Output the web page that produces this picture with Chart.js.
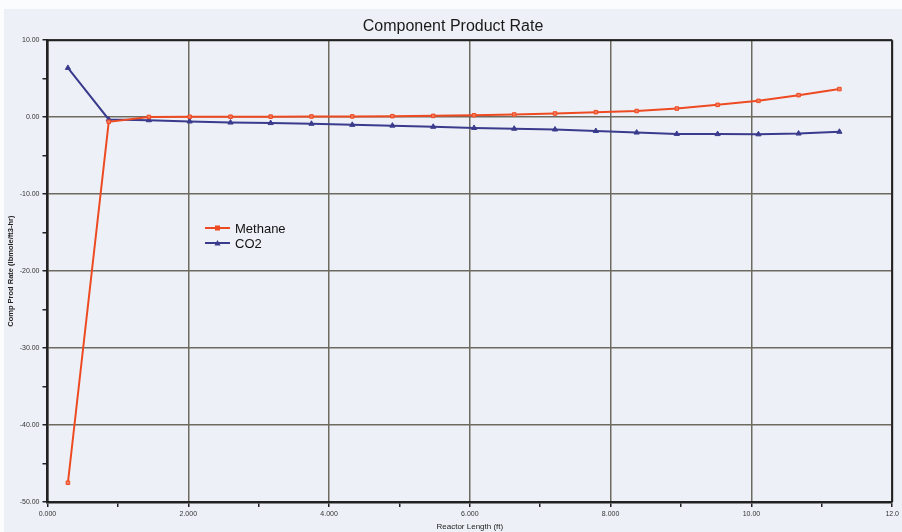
<!DOCTYPE html>
<html>
<head>
<meta charset="utf-8">
<script src="https://cdn.jsdelivr.net/npm/chart.js@4/dist/chart.umd.min.js"></script>
<style>
html,body{margin:0;padding:0;background:#edf1f7;}
canvas{display:block;}
</style>
</head>
<body>
<canvas id="c" width="902" height="532"></canvas>
<script>
// ---- data ----
const reactorLength = [0.29,0.87,1.44,2.02,2.60,3.17,3.75,4.33,4.90,5.48,6.06,6.63,7.21,7.79,8.37,8.94,9.52,10.10,10.67,11.25];
const methane = [-47.5,-0.6,0.03,0.05,0.06,0.07,0.09,0.10,0.13,0.17,0.25,0.35,0.48,0.65,0.80,1.12,1.60,2.12,2.86,3.65];
const co2 = [6.4,-0.3,-0.4,-0.56,-0.7,-0.77,-0.86,-1.0,-1.1,-1.25,-1.4,-1.5,-1.6,-1.8,-2.0,-2.18,-2.2,-2.23,-2.13,-1.9];
const seriesNames = ['Methane','CO2'];
const xTickValues = [0,2,4,6,8,10,12];
const xTickText = ['0.000','2.000','4.000','6.000','8.000','10.00','12.0'];
const yTickValues = [10,0,-10,-20,-30,-40,-50];
const yTickText = ['10.00','0.00','-10.00','-20.00','-30.00','-40.00','-50.00'];
const titleText = 'Component Product Rate';
const xTitle = 'Reactor Length (ft)';
const yTitle = 'Comp Prod Rate (lbmole/ft3-hr)';

const RED = '#ee4a22', BLUE = '#3a3b8c', GRID = '#6f6a60', AXIS = '#222';
const NARROW = "'Liberation Sans Narrow', 'Arial Narrow', sans-serif";

const bgPlugin = {
  id: 'bg',
  beforeDraw(chart) {
    const c = chart.ctx;
    c.save();
    c.fillStyle = '#edf1f7';
    c.fillRect(0, 0, chart.width, chart.height);
    c.fillStyle = '#fbfcfd';
    c.fillRect(0, 0, chart.width, 9);
    c.fillRect(0, 0, 4, chart.height);
    c.restore();
  },
  afterDatasetsDraw(chart) {
    const c = chart.ctx, a = chart.chartArea;
    c.save();
    c.strokeStyle = AXIS;
    c.lineWidth = 2;
    c.beginPath();
    c.moveTo(a.left, a.top); c.lineTo(a.right, a.top);
    c.moveTo(a.right, a.top); c.lineTo(a.right, a.bottom);
    c.stroke();
    c.restore();
  }
};

const legendPlugin = {
  id: 'inlegend',
  afterDraw(chart) {
    const c = chart.ctx;
    const x0 = 205, y0 = 228, gap = 15;
    chart.data.datasets.forEach((ds, i) => {
      const y = y0 + i * gap;
      c.save();
      c.strokeStyle = ds.borderColor;
      c.lineWidth = 2;
      c.beginPath(); c.moveTo(x0, y); c.lineTo(x0 + 25, y); c.stroke();
      c.fillStyle = ds.borderColor;
      const mx = x0 + 12.5;
      if (ds.pointStyle === 'rect') {
        c.fillRect(mx - 2.5, y - 2.5, 5, 5);
      } else {
        c.beginPath();
        c.moveTo(mx, y - 3); c.lineTo(mx + 3, y + 2.5); c.lineTo(mx - 3, y + 2.5); c.closePath(); c.fill();
      }
      c.fillStyle = '#111';
      c.font = '13px Arial, "Liberation Sans", sans-serif';
      c.textBaseline = 'middle';
      c.textAlign = 'left';
      c.fillText(ds.label, x0 + 30, y + 1);
      c.restore();
    });
  }
};

function gridColor(ctx, step) {
  const v = ctx.tick ? ctx.tick.value : 0;
  return (Math.round(v) % step === 0) ? GRID : 'rgba(0,0,0,0)';
}

new Chart(document.getElementById('c'), {
  type: 'line',
  data: {
    datasets: [
      {
        label: seriesNames[0],
        data: reactorLength.map((x, i) => ({x, y: methane[i]})),
        borderColor: RED, backgroundColor: RED,
        borderWidth: 2, pointStyle: 'rect', pointRadius: 2.5,
        pointBackgroundColor: '#f37a5a', pointBorderColor: RED, pointBorderWidth: 1,
        tension: 0
      },
      {
        label: seriesNames[1],
        data: reactorLength.map((x, i) => ({x, y: co2[i]})),
        borderColor: BLUE, backgroundColor: BLUE,
        borderWidth: 2, pointStyle: 'triangle', pointRadius: 3,
        pointBackgroundColor: BLUE, pointBorderColor: BLUE, pointBorderWidth: 1,
        tension: 0
      }
    ]
  },
  options: {
    responsive: false,
    animation: false,
    devicePixelRatio: 1,
    layout: { padding: { left: 0, right: -4, top: 0, bottom: 0 } },
    plugins: {
      legend: { display: false },
      tooltip: { enabled: false },
      title: {
        display: true, text: titleText, color: '#1a1a1a',
        font: { family: 'Arial, "Liberation Sans", sans-serif', size: 16, weight: 'normal' },
        padding: { top: 17, bottom: 4 }
      }
    },
    scales: {
      x: {
        type: 'linear', min: 0, max: 12,
        afterFit(s) { s.height = 30; },
        afterBuildTicks(s) { s.ticks = []; for (let v = 0; v <= 12; v++) s.ticks.push({value: v}); },
        ticks: {
          autoSkip: false, maxRotation: 0, padding: 3,
          color: '#333', font: { family: NARROW, size: 7 },
          callback(v) { const k = xTickValues.indexOf(v); return k >= 0 ? xTickText[k] : ''; }
        },
        grid: {
          color: (ctx) => gridColor(ctx, 2), lineWidth: 1.5,
          tickColor: AXIS, tickLength: 5, drawTicks: true
        },
        border: { color: AXIS, width: 2.5 },
        title: {
          display: true, text: xTitle, color: '#222',
          font: { family: NARROW, size: 8 }, padding: { top: 0, bottom: 0 }
        }
      },
      y: {
        type: 'linear', min: -50, max: 10,
        afterFit(s) { s.width = 47.5; },
        afterBuildTicks(s) { s.ticks = []; for (let v = -50; v <= 10; v += 5) s.ticks.push({value: v}); },
        ticks: {
          autoSkip: false, padding: 3,
          color: '#333', font: { family: NARROW, size: 7 },
          callback(v) { const k = yTickValues.indexOf(v); return k >= 0 ? yTickText[k] : ''; }
        },
        grid: {
          color: (ctx) => gridColor(ctx, 10), lineWidth: 1.5,
          tickColor: AXIS, tickLength: 5, drawTicks: true
        },
        border: { color: AXIS, width: 2.5 },
        title: {
          display: true, text: yTitle, color: '#222',
          font: { family: NARROW, size: 7.5, weight: 'bold' }, padding: { top: 6, bottom: 0 }
        }
      }
    }
  },
  plugins: [bgPlugin, legendPlugin]
});
</script>
</body>
</html>
